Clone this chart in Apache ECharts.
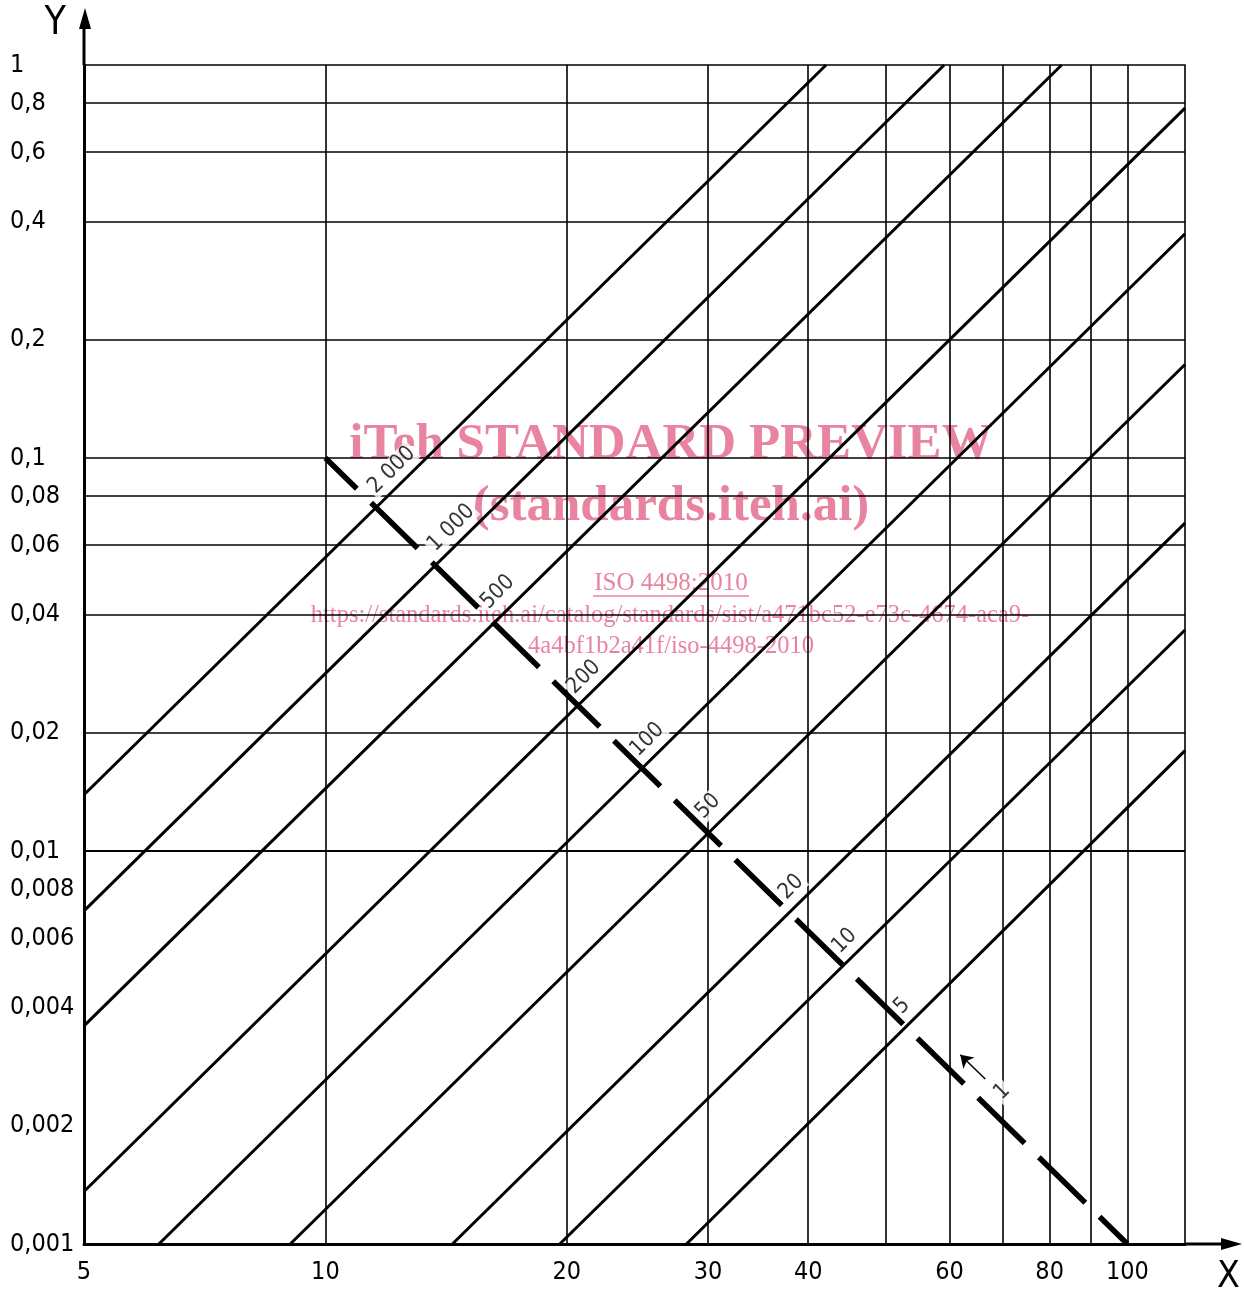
<!DOCTYPE html>
<html>
<head>
<meta charset="utf-8">
<title>ISO 4498 chart</title>
<script src="https://cdn.jsdelivr.net/npm/echarts@6/dist/echarts.min.js"></script>
<style>
  html, body { margin: 0; background: #fff; }
  #chart { width: 1244px; height: 1290px; }
</style>
</head>
<body>
<div id="chart"></div>
<script>
const FONT = "'DejaVu Sans Condensed', 'Liberation Sans Narrow', sans-serif";
const PINK = '#e8849f';

// axis ticks and grid
const xLabels = [5, 10, 20, 30, 40, 60, 80, 100];
const xGrid = [10, 20, 30, 40, 50, 60, 70, 80, 90, 100];
const yLabels = [1, 0.8, 0.6, 0.4, 0.2, 0.1, 0.08, 0.06, 0.04, 0.02, 0.01, 0.008, 0.006, 0.004, 0.002, 0.001];
const yGrid = [0.8, 0.6, 0.4, 0.2, 0.1, 0.08, 0.06, 0.04, 0.02, 0.01, 0.008, 0.006, 0.004, 0.002];

const lineNames = ['2 000', '1 000', '500', '200', '100', '50', '20', '10', '5'];
const lineEnds = [
  [5, 0.0139, 42.1, 1],
  [5, 0.00704, 59.1, 1],
  [5, 0.00359, 82.8, 1],
  [5, 0.00136, 118, 0.777],
  [6.2, 0.001, 118, 0.372],
  [9.04, 0.001, 118, 0.173],
  [14.4, 0.001, 118, 0.0683],
  [19.6, 0.001, 118, 0.0365],
  [28.2, 0.001, 118, 0.018]
];

// thick dashed scale line and its labels
const scaleLine = [[10, 0.1], [100, 0.001]];
const scaleLabels = ['2 000', '1 000', '500', '200', '100', '50', '20', '10', '5', '1'];
const scaleLabelPos = [
  [12.1, 0.0932], [14.35, 0.0664], [16.4, 0.0456], [21.0, 0.0277], [25.2, 0.0192],
  [30.0, 0.013], [38.1, 0.0081], [44.4, 0.0059], [52.4, 0.00403], [69.8, 0.00244]
];
const arrowFrom = [66.5, 0.00263];
const arrowTo = [61.9, 0.00303];

function fmt(v) {
  return String(+(+v).toPrecision(6)).replace('.', ',');
}

const series = [];

// grid lines
series.push({
  type: 'line',
  data: [[5, 0.001]],
  symbol: 'none',
  silent: true,
  z: 1,
  markLine: {
    silent: true,
    symbol: ['none', 'none'],
    label: { show: false },
    emphasis: { disabled: true },
    lineStyle: { color: '#000', width: 1.6, type: 'solid' },
    data: xGrid.map(v => ({ xAxis: v })).concat(yGrid.map(v => ({ yAxis: v })))
  }
});

lineEnds.forEach((l, i) => {
  series.push({
    name: lineNames[i],
    type: 'line',
    data: [[l[0], l[1]], [l[2], l[3]]],
    symbol: 'none',
    silent: true,
    z: 3,
    lineStyle: { color: '#000', width: 3 }
  });
});

series.push({
  type: 'line',
  data: scaleLine,
  symbol: 'none',
  silent: true,
  z: 4,
  lineStyle: { color: '#000', width: 5.5, type: [65, 20], dashOffset: 21 }
});

series.push({
  type: 'scatter',
  data: scaleLabelPos.map((p, i) => ({ name: scaleLabels[i], value: p })),
  symbolSize: 1,
  itemStyle: { color: 'rgba(0,0,0,0)' },
  silent: true,
  z: 5,
  label: {
    show: true,
    position: 'inside',
    formatter: p => p.name,
    rotate: 45,
    fontSize: 22,
    fontFamily: FONT,
    color: '#000',
    backgroundColor: '#fff',
    padding: [0, 2]
  }
});

series.push({
  type: 'lines',
  coordinateSystem: 'cartesian2d',
  data: [{ coords: [arrowFrom, arrowTo] }],
  symbol: ['none', 'arrow'],
  symbolSize: [7, 12],
  silent: true,
  z: 5,
  lineStyle: { color: '#000', width: 1.5, opacity: 1 }
});

const option = {
  animation: false,
  backgroundColor: '#fff',
  grid: {
    left: 84, top: 65, right: 59, bottom: 46,
    outerBoundsMode: 'none',
    containLabel: false,
    show: true, borderColor: '#000', borderWidth: 1.6
  },
  xAxis: {
    type: 'log',
    min: 5,
    max: 118,
    name: 'X',
    nameLocation: 'end',
    nameGap: 32,
    nameTextStyle: { fontSize: 37, fontFamily: FONT, color: '#000', verticalAlign: 'top', align: 'left', padding: [15, 0, 0, 0] },
    axisLine: { lineStyle: { color: '#000', width: 3 } },
    axisTick: { show: false },
    splitLine: { show: false },
    minorSplitLine: { show: false },
    axisLabel: {
      customValues: xLabels,
      formatter: fmt,
      fontSize: 25,
      fontFamily: FONT,
      color: '#000',
      margin: 16
    }
  },
  yAxis: {
    type: 'log',
    min: 0.001,
    max: 1,
    name: 'Y',
    nameLocation: 'end',
    nameGap: 22,
    nameTextStyle: { fontSize: 39, fontFamily: FONT, color: '#000', align: 'right', verticalAlign: 'bottom', padding: [0, 18, 0, 0] },
    axisLine: { lineStyle: { color: '#000', width: 3 } },
    axisTick: { show: false },
    splitLine: { show: false },
    minorSplitLine: { show: false },
    axisLabel: {
      customValues: yLabels,
      formatter: fmt,
      fontSize: 25,
      fontFamily: FONT,
      color: '#000',
      align: 'left',
      margin: 74
    }
  },
  graphic: [
    // axis extensions with arrows
    { type: 'line', z: 10, shape: { x1: 84, y1: 65, x2: 84, y2: 26 }, style: { stroke: '#000', lineWidth: 3 } },
    { type: 'polygon', z: 10, shape: { points: [[85, 8], [79, 29], [91, 29]] }, style: { fill: '#000' } },
    { type: 'line', z: 10, shape: { x1: 1185, y1: 1244, x2: 1224, y2: 1244 }, style: { stroke: '#000', lineWidth: 3 } },
    { type: 'polygon', z: 10, shape: { points: [[1242, 1244], [1221, 1238], [1221, 1250]] }, style: { fill: '#000' } },
    // watermark
    { type: 'text', z: 0, x: 671, y: 445, style: { text: 'iTeh STANDARD PREVIEW', font: "bold 51px 'Liberation Serif'", fill: PINK, align: 'center', verticalAlign: 'middle' } },
    { type: 'text', z: 0, x: 671, y: 507, style: { text: '(standards.iteh.ai)', font: "bold 51px 'Liberation Serif'", fill: PINK, align: 'center', verticalAlign: 'middle' } },
    { type: 'text', z: 0, x: 671, y: 583, style: { text: 'ISO 4498:2010', font: "25px 'Liberation Serif'", fill: PINK, align: 'center', verticalAlign: 'middle' } },
    { type: 'line', z: 0, shape: { x1: 593, y1: 596, x2: 749, y2: 596 }, style: { stroke: PINK, lineWidth: 1.5 } },
    { type: 'text', z: 0, x: 670, y: 616, style: { text: 'https://standards.iteh.ai/catalog/standards/sist/a471bc52-e73c-4674-aca9-', font: "24.5px 'Liberation Serif'", fill: PINK, align: 'center', verticalAlign: 'middle' } },
    { type: 'text', z: 0, x: 671, y: 647, style: { text: '4a4bf1b2a41f/iso-4498-2010', font: "24.5px 'Liberation Serif'", fill: PINK, align: 'center', verticalAlign: 'middle' } }
  ],
  series: series
};

const chart = echarts.init(document.getElementById('chart'));
chart.setOption(option);
window.onresize = chart.resize;
</script>
</body>
</html>
